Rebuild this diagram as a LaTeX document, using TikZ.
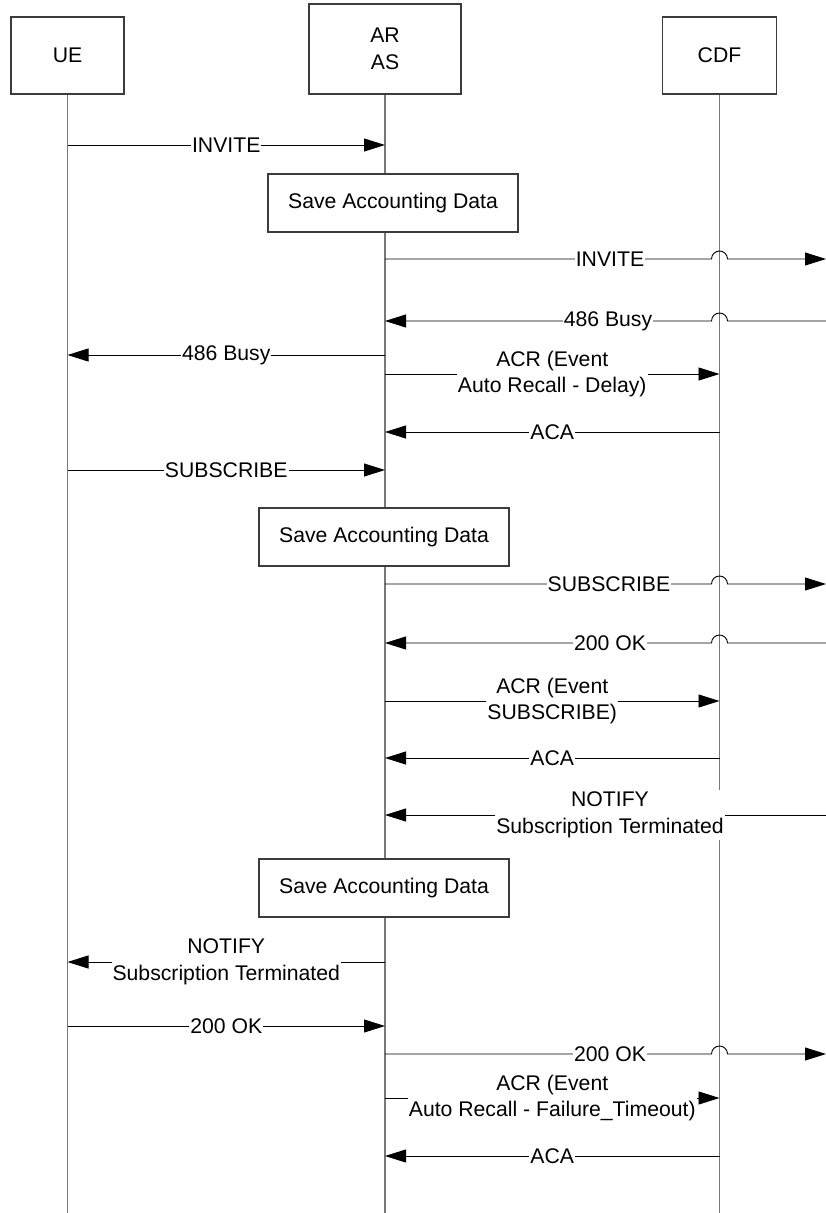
\documentclass[tikz,border=0pt]{standalone}
\usepackage{fontspec}
\setmainfont{Liberation Sans}
\usetikzlibrary{arrows.meta}
\definecolor{lifec}{RGB}{120,120,120}
\definecolor{boxc}{RGB}{60,60,60}
\begin{document}
\begin{tikzpicture}[x=1pt,y=-1pt,
  every node/.style={font=\fontsize{21.2}{26.5}\selectfont},
  actor/.style={draw=boxc, line width=1.2pt, fill=white, inner sep=0pt, align=center},
  lifeline/.style={draw=lifec, line width=1.3pt},
  msg/.style={draw=black, line width=0.9pt, -{Triangle[length=21pt,width=13pt]}},
  lbl/.style={fill=white, inner xsep=1pt, inner ysep=2pt, align=center},
  savebox/.style={draw=boxc, line width=1.1pt, fill=white, minimum width=250pt, minimum height=58pt, inner sep=0pt}
]
\useasboundingbox (0,0) rectangle (826,1213);
\fill[white] (0,0) rectangle (826,1213);

% actors
\node[actor, minimum width=113pt, minimum height=77pt] (ue) at (67.5,55.5) {UE};
\node[actor, minimum width=152pt, minimum height=90pt] (ar) at (385,49) {AR\\AS};
\node[actor, minimum width=114pt, minimum height=77pt] (cdf) at (719.5,55.5) {CDF};

% lifelines
\coordinate (ueend) at (67.5,1213);
\coordinate (arend) at (385,1213);
\coordinate (cdfend) at (719.5,1213);
\draw[lifeline] (ue.south) -- (ueend);
\draw[lifeline] (ar.south) -- (arend);
\draw[lifeline] (cdf.south) -- (cdfend);

% right edge coordinates
\coordinate (e1) at (826,259);
\coordinate (e2) at (826,321);
\coordinate (e3) at (826,584);
\coordinate (e4) at (826,643);
\coordinate (e5) at (826,815);
\coordinate (e6) at (826,1054);

% 1 INVITE
\draw[msg] (ue.south |- 0,145) -- node[lbl]{INVITE} (ar.south |- 0,145);
% Save box 1
\node[savebox] (s1) at (393,203) {Save Accounting Data};
% INVITE to right
\draw[msg] (ar.south |- 0,259) -- (711.5,259) arc[start angle=180,end angle=0,radius=8pt] -- (e1);
\node[lbl] (l1) at (610,259) {INVITE};
% 486 Busy from right
\draw[msg] (e2) -- (727.5,321) arc[start angle=0,end angle=180,radius=8pt] -- (ar.south |- 0,321);
\node[lbl] (l2) at (608,321) {486 Busy};
% 486 Busy to UE
\draw[msg] (ar.south |- 0,355) -- node[lbl]{486 Busy} (ue.south |- 0,355);
% ACR
\draw[msg] (ar.south |- 0,374) -- node[lbl]{ACR (Event\\Auto Recall - Delay)} (cdf.south |- 0,374);
% ACA
\draw[msg] (cdf.south |- 0,432) -- node[lbl]{ACA} (ar.south |- 0,432);
% SUBSCRIBE
\draw[msg] (ue.south |- 0,470) -- node[lbl]{SUBSCRIBE} (ar.south |- 0,470);
% Save box 2
\node[savebox] (s2) at (384,537) {Save Accounting Data};
% SUBSCRIBE to right
\draw[msg] (ar.south |- 0,584) -- (711.5,584) arc[start angle=180,end angle=0,radius=8pt] -- (e3);
\node[lbl] (l3) at (609,584) {SUBSCRIBE};
% 200 OK from right
\draw[msg] (e4) -- (727.5,643) arc[start angle=0,end angle=180,radius=8pt] -- (ar.south |- 0,643);
\node[lbl] (l4) at (610,643) {200 OK};
% ACR SUBSCRIBE
\draw[msg] (ar.south |- 0,701) -- node[lbl]{ACR (Event\\SUBSCRIBE)} (cdf.south |- 0,701);
% ACA
\draw[msg] (cdf.south |- 0,758) -- node[lbl]{ACA} (ar.south |- 0,758);
% NOTIFY from right
\draw[msg] (e5) -- (ar.south |- 0,815);
\node[lbl] (l5) at (610,815) {NOTIFY\\Subscription Terminated};
% Save box 3
\node[savebox] (s3) at (384,888) {Save Accounting Data};
% NOTIFY to UE
\draw[msg] (ar.south |- 0,962) -- node[lbl]{NOTIFY\\Subscription Terminated} (ue.south |- 0,962);
% 200 OK UE -> AR
\draw[msg] (ue.south |- 0,1026) -- node[lbl]{200 OK} (ar.south |- 0,1026);
% 200 OK to right
\draw[msg] (ar.south |- 0,1054) -- (711.5,1054) arc[start angle=180,end angle=0,radius=8pt] -- (e6);
\node[lbl] (l6) at (610,1054) {200 OK};
% ACR failure
\draw[msg] (ar.south |- 0,1098) -- node[lbl]{ACR (Event\\Auto Recall - Failure\_Timeout)} (cdf.south |- 0,1098);
% ACA
\draw[msg] (cdf.south |- 0,1156) -- node[lbl]{ACA} (ar.south |- 0,1156);
\end{tikzpicture}
\end{document}
